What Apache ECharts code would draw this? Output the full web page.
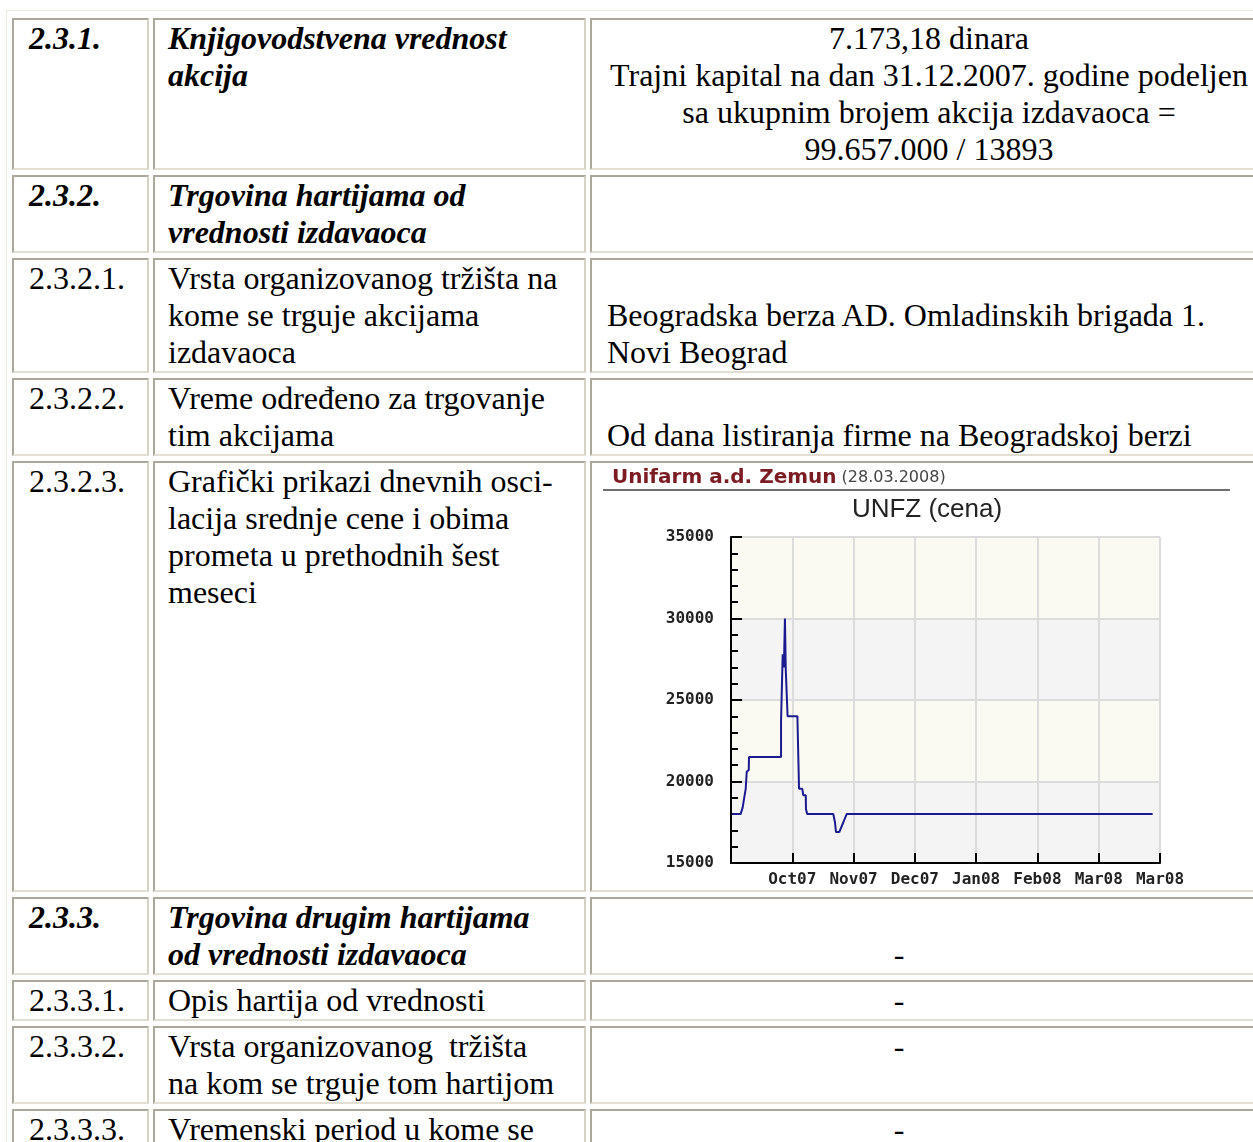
<!DOCTYPE html>
<html>
<head>
<meta charset="utf-8">
<title>UNFZ</title>
<script src="https://cdn.jsdelivr.net/npm/echarts@6/dist/echarts.min.js"></script>
<style>
    html, body { margin: 0; padding: 0; background: #fff; overflow: hidden; }
    body { width: 1253px; height: 1142px; position: relative; }
    .wrap { position: absolute; left: 0; top: 0; width: 1400px; }
    table.doc {
        margin: 10px 0 0 6px;
        table-layout: fixed;
        width: 1263px;
        border-collapse: separate;
        border-spacing: 4px 5px;
        border: 1px solid;
        border-color: #ece9d8 #aca899 #aca899 #ece9d8;
        padding: 2px 0 0 1px;
        font-family: "Liberation Serif", "Times New Roman", serif;
        font-size: 32px;
        color: #000;
    }
    table.doc td {
        vertical-align: top;
        border: 2px solid;
        border-color: #aca899 #d6d3c4 #e2dfd2 #aca899;
        padding: 0 15px;
        line-height: normal;
    }
    table.doc td:nth-child(2) { padding-left: 13px; padding-right: 22px; }
    table.doc td:nth-child(3) { padding-right: 11px; }
    table.doc td.c1 { width: 103px; }
    table.doc td.c2 { width: 394px; }
    table.doc td.c3 { width: 644px; }
    table.doc td.mid { text-align: center; }
    table.doc td.dash { text-align: center; padding-right: 71px; }
    table.doc td.chartcell { padding: 0; }
    .bi { font-weight: bold; font-style: italic; }
    #chart { width: 670px; height: 427px; display: block; }
</style>
</head>
<body>
<div class="wrap">
<table class="doc">
    <tr>
        <td class="c1 bi">2.3.1.</td>
        <td class="c2 bi">Knjigovodstvena vrednost akcija</td>
        <td class="c3 mid">7.173,18 dinara<br>Trajni kapital na dan 31.12.2007. godine podeljen sa ukupnim brojem akcija izdavaoca = 99.657.000 / 13893</td>
    </tr>
    <tr>
        <td class="bi">2.3.2.</td>
        <td class="bi">Trgovina hartijama od vrednosti izdavaoca</td>
        <td></td>
    </tr>
    <tr>
        <td>2.3.2.1.</td>
        <td>Vrsta organizovanog tržišta na kome se trguje akcijama izdavaoca</td>
        <td><br>Beogradska berza AD. Omladinskih brigada 1. Novi Beograd</td>
    </tr>
    <tr>
        <td>2.3.2.2.</td>
        <td>Vreme određeno za trgovanje tim akcijama</td>
        <td><br>Od dana listiranja firme na Beogradskoj berzi</td>
    </tr>
    <tr>
        <td>2.3.2.3.</td>
        <td>Grafički prikazi dnevnih osci-lacija srednje cene i obima prometa u prethodnih šest meseci</td>
        <td class="chartcell"><div id="chart"></div></td>
    </tr>
    <tr>
        <td class="bi">2.3.3.</td>
        <td class="bi">Trgovina drugim hartijama od vrednosti izdavaoca</td>
        <td class="dash"><br>-</td>
    </tr>
    <tr>
        <td>2.3.3.1.</td>
        <td>Opis hartija od vrednosti</td>
        <td class="dash">-</td>
    </tr>
    <tr>
        <td>2.3.3.2.</td>
        <td>Vrsta organizovanog&nbsp; tržišta na kom se trguje tom hartijom</td>
        <td class="dash">-</td>
    </tr>
    <tr>
        <td>2.3.3.3.</td>
        <td>Vremenski period u kome se</td>
        <td class="dash">-</td>
    </tr>
</table>
</div>
<script>
    // x: dani od pocetka prikaza (jedan podeok = 30 dana), y: cena
    var tickLabels = ['', 'Oct07', 'Nov07', 'Dec07', 'Jan08', 'Feb08', 'Mar08', 'Mar08'];
    var priceDay = [0.6, 4.7, 5.7, 6.4, 7.2, 7.7, 8.7, 8.8,
        24.5, 24.5, 25.3, 25.3, 25.9, 26.4, 26.8, 27.7,
        27.7, 32.5, 32.9, 33.3, 34.9, 35.4, 36.6, 36.7,
        37.3, 50.1, 50.9, 51.4, 53.0, 55.0, 56.6, 206.4];
    var priceValue = [18000, 18000, 18400, 18950, 19550, 20600, 20700, 21500,
        21500, 23700, 23700, 27800, 27000, 30000, 26900, 26900,
        24000, 24000, 21800, 19550, 19550, 19150, 19150, 18300,
        18000, 18000, 17500, 16900, 16900, 17500, 18000, 18000];

    var chart = echarts.init(document.getElementById('chart'), null, { renderer: 'canvas' });

    var pixelFont = { fontFamily: 'DejaVu Sans Mono', fontWeight: 'bold', fontSize: 16, color: '#222' };

    chart.setOption({
        animation: false,
        backgroundColor: '#fff',
        title: [{
            text: '{a|Unifarm a.d. Zemun} {b|(28.03.2008)}',
            left: 15,
            top: 0,
            textStyle: {
                rich: {
                    a: { fontFamily: 'DejaVu Sans', fontWeight: 'bold', fontSize: 20, color: '#7b1c23' },
                    b: { fontFamily: 'DejaVu Sans', fontWeight: 'normal', fontSize: 16, color: '#444' }
                }
            }
        }, {
            text: 'UNFZ (cena)',
            left: 'center',
            top: 29,
            textStyle: { fontFamily: 'Liberation Sans', fontWeight: 'normal', fontSize: 26, color: '#222' }
        }],
        graphic: [{
            type: 'line',
            shape: { x1: 11, y1: 27, x2: 638, y2: 27 },
            style: { stroke: '#707070', lineWidth: 2 }
        }],
        grid: { left: 139, top: 74, width: 429, height: 326 },
        xAxis: {
            type: 'value',
            min: 0,
            max: 210,
            interval: 30,
            axisLine: { onZero: false, lineStyle: { color: '#000', width: 2 } },
            axisTick: { inside: true, length: 10, lineStyle: { color: '#000', width: 2 } },
            axisLabel: Object.assign({
                margin: 9,
                formatter: function (v) { return tickLabels[Math.round(v / 30)] || ''; }
            }, pixelFont),
            splitLine: { show: true, lineStyle: { color: '#dcdcdc', width: 2 } }
        },
        yAxis: {
            type: 'value',
            min: 15000,
            max: 35000,
            interval: 5000,
            axisLine: { show: true, onZero: false, lineStyle: { color: '#000', width: 2 } },
            axisTick: { show: true, inside: true, length: 11, lineStyle: { color: '#000', width: 2 } },
            minorTick: { show: true, splitNumber: 5, length: 7, lineStyle: { color: '#000', width: 2 } },
            axisLabel: Object.assign({
                margin: 17,
                formatter: function (v) { return String(v); }
            }, pixelFont),
            splitLine: { show: true, lineStyle: { color: '#dcdcdc', width: 2 } },
            splitArea: { show: true, areaStyle: { color: ['#f4f4f4', '#fafaf3'] } }
        },
        series: [{
            type: 'line',
            symbol: 'none',
            data: priceDay.map(function (d, i) { return [d, priceValue[i]]; }),
            lineStyle: { color: '#1b1b8f', width: 2 },
            z: 3
        }]
    });
</script>
</body>
</html>
